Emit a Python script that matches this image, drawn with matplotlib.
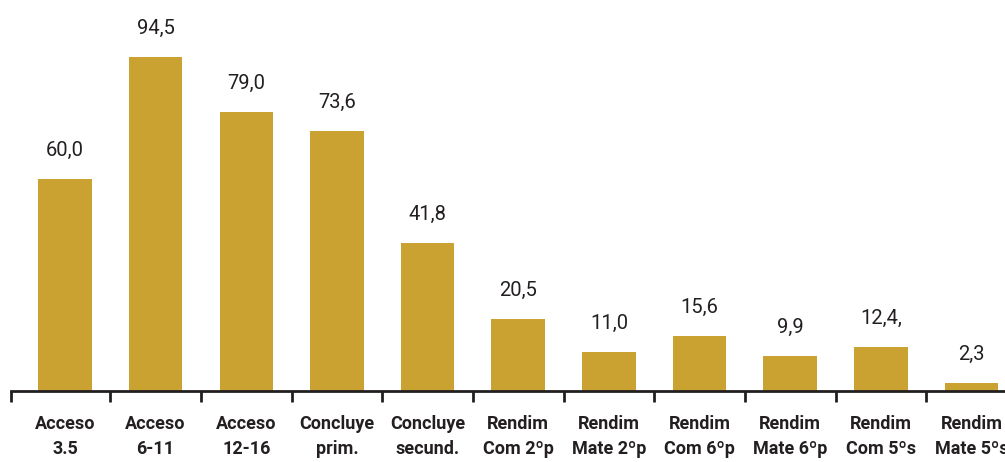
import numpy as np
import matplotlib.pyplot as plt

categorias = ['Acceso\n3.5', 'Acceso\n6-11', 'Acceso\n12-16', 'Concluye\nprim.',
              'Concluye\nsecund.', 'Rendim\nCom 2ºp', 'Rendim\nMate 2ºp',
              'Rendim\nCom 6ºp', 'Rendim\nMate 6ºp', 'Rendim\nCom 5ºs',
              'Rendim\nMate 5ºs']
valores = [60.0, 94.5, 79.0, 73.6, 41.8, 20.5, 11.0, 15.6, 9.9, 12.4, 2.3]
etiquetas = ['60,0', '94,5', '79,0', '73,6', '41,8', '20,5', '11,0', '15,6',
             '9,9', '12,4,', '2,3']

fuente = ['Roboto', 'DejaVu Sans']
oscuro = '#231f20'
dorado = '#c9a232'

fig = plt.figure(figsize=(10.05, 4.62), dpi=100)
ax = fig.add_axes([10.6 / 1005, 71 / 462, 1006.2 / 1005, 353.5 / 462])

x = np.arange(len(valores))
barras = ax.bar(x, valores, width=0.59, color=dorado)

for xi, v, txt in zip(x, valores, etiquetas):
    ax.annotate(txt, (xi, v), xytext=(0, 16.5), textcoords='offset points',
                ha='center', va='baseline', fontsize=14.5, color=oscuro,
                family=fuente)

ax.set_xlim(-0.6, len(valores) - 0.5)
ax.set_ylim(0, 100)

ax.set_xticks(x)
ax.set_xticklabels(categorias, family=fuente, fontweight='bold', fontsize=13,
                   color=oscuro, linespacing=1.55)
ax.set_xticks(np.concatenate([[-0.6], x[:-1] + 0.5]), minor=True)
ax.tick_params(axis='x', which='major', length=0, pad=17)
ax.tick_params(axis='x', which='minor', length=8, width=2, color=oscuro,
               direction='out')

ax.set_yticks([])
for s in ['top', 'right', 'left']:
    ax.spines[s].set_visible(False)
ax.spines['bottom'].set_color(oscuro)
ax.spines['bottom'].set_linewidth(2)

fig.savefig('out.png', dpi=100)
